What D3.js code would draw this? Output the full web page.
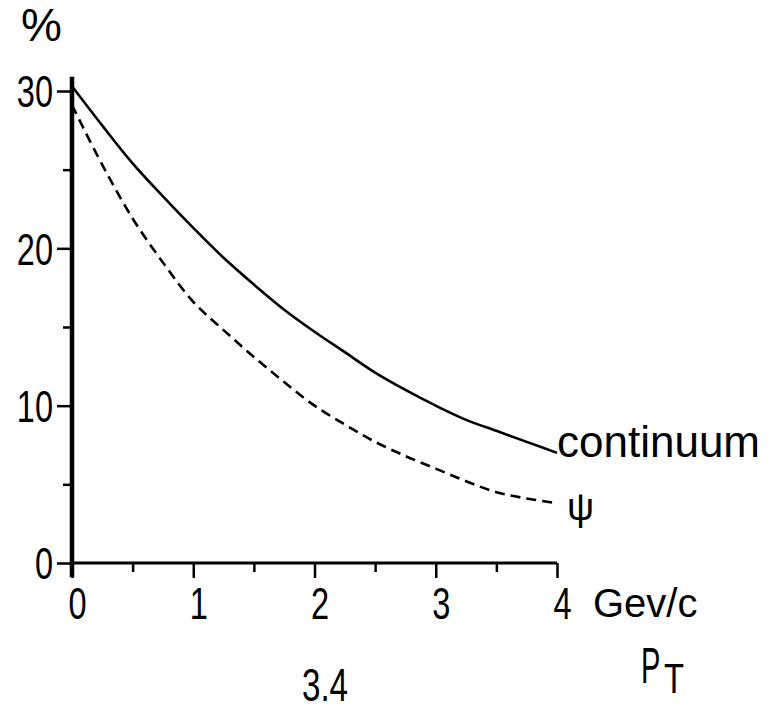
<!DOCTYPE html>
<html>
<head>
<meta charset="utf-8">
<script src="https://cdn.jsdelivr.net/npm/d3@7"></script>
<style>
  html, body { margin: 0; padding: 0; background: #fff; }
  svg { display: block; }
  text { font-family: "Liberation Sans", "DejaVu Sans", sans-serif; fill: #000; }
</style>
</head>
<body>
<svg id="chart" width="774" height="716"></svg>
<script>
// Transverse momentum (GeV/c) sample points
const pt = [0, 0.25, 0.5, 0.75, 1, 1.25, 1.5, 1.75, 2, 2.25, 2.5, 2.75, 3, 3.25, 3.5, 3.75, 4];
// Percentage for the continuum (solid) and psi (dashed) curves
const continuum = [30.3, 27.8, 25.4, 23.3, 21.3, 19.4, 17.7, 16.1, 14.7, 13.4, 12.1, 11.0, 10.0, 9.1, 8.4, 7.7, 7.0];
const psi = [29.1, 25.3, 21.9, 19.1, 16.6, 14.8, 13.1, 11.5, 10.0, 8.8, 7.7, 6.8, 6.0, 5.2, 4.5, 4.1, 3.8];
// Tick values
const xMajor = [0, 1, 2, 3, 4];
const xMinor = [0.5, 1.5, 2.5, 3.5];
const yMajor = [0, 10, 20, 30];
const yMinor = [5, 15, 25];

const svg = d3.select("#chart");
const x = d3.scaleLinear().domain([0, 4]).range([72, 557]);
const y = d3.scaleLinear().domain([0, 30]).range([563, 91]);

// Condense text horizontally around its own anchor point
function condense(sel, sx) {
  sel.each(function () {
    const t = d3.select(this);
    const tx = +t.attr("x") || 0;
    t.attr("x", tx / sx).attr("transform", `scale(${sx},1)`);
  });
}

// Y axis: thick vertical line extending a little past both ends
svg.append("line")
  .attr("x1", x(0)).attr("x2", x(0))
  .attr("y1", y(30.9)).attr("y2", y(-0.9))
  .attr("stroke", "#000").attr("stroke-width", 4.5);

// X axis line
svg.append("line")
  .attr("x1", x(0)).attr("x2", x(4))
  .attr("y1", y(0)).attr("y2", y(0))
  .attr("stroke", "#000").attr("stroke-width", 3);

function styleAxis(g) {
  g.select(".domain").remove();
  g.selectAll(".tick line").attr("stroke", "#000").attr("stroke-width", 2.5);
}

// Y ticks
svg.append("g")
  .attr("transform", `translate(${x(0)},0)`)
  .call(d3.axisLeft(y).tickValues(yMajor).tickSize(15).tickPadding(4).tickFormat(d3.format("d")))
  .call(styleAxis)
  .call(g => g.selectAll("text")
    .attr("font-size", 44).attr("font-family", null).attr("dy", "0.36em").attr("fill", "#000")
    .call(condense, 0.74));
svg.append("g")
  .attr("transform", `translate(${x(0)},0)`)
  .call(d3.axisLeft(y).tickValues(yMinor).tickSize(9).tickFormat(""))
  .call(styleAxis);

// X ticks
svg.append("g")
  .attr("transform", `translate(0,${y(0)})`)
  .call(d3.axisBottom(x).tickValues(xMajor).tickSize(15).tickPadding(9).tickFormat(d3.format("d")))
  .call(styleAxis)
  .call(g => g.selectAll("text")
    .attr("font-size", 44).attr("font-family", null).attr("x", 5).attr("dy", "0.72em").attr("fill", "#000")
    .call(condense, 0.74));
svg.append("g")
  .attr("transform", `translate(0,${y(0)})`)
  .call(d3.axisBottom(x).tickValues(xMinor).tickSize(9).tickFormat(""))
  .call(styleAxis);

// Curves
const line = (vals) => d3.line()
  .x((d, i) => x(pt[i]))
  .y(d => y(d))
  .curve(d3.curveCatmullRom.alpha(0.5))(vals);

svg.append("path")
  .attr("d", line(continuum))
  .attr("fill", "none").attr("stroke", "#000").attr("stroke-width", 2.6);

svg.append("path")
  .attr("d", line(psi))
  .attr("fill", "none").attr("stroke", "#000").attr("stroke-width", 2.6)
  .attr("stroke-dasharray", "10,6");

// Curve labels
svg.append("text")
  .attr("x", x(4)).attr("y", y(continuum[continuum.length - 1]) + 4)
  .attr("font-size", 44).text("continuum");
svg.append("text")
  .attr("x", x(4) + 10).attr("y", y(psi[psi.length - 1]) + 17)
  .attr("font-size", 38).text("ψ");

// Axis titles
svg.append("text")
  .attr("x", 21).attr("y", 41).attr("font-size", 46).text("%");
svg.append("text")
  .attr("x", 593).attr("y", 617).attr("font-size", 40).text("Gev/c");
svg.append("g").attr("transform", "translate(641,683) scale(0.58,1)")
  .append("text").attr("font-size", 50).text("P");
svg.append("g").attr("transform", "translate(664,693) scale(0.78,1)")
  .append("text").attr("font-size", 42).text("T");

// Figure number
svg.append("g").attr("transform", "translate(302,701) scale(0.72,1)")
  .append("text").attr("font-size", 46).text("3.4");
</script>
</body>
</html>
